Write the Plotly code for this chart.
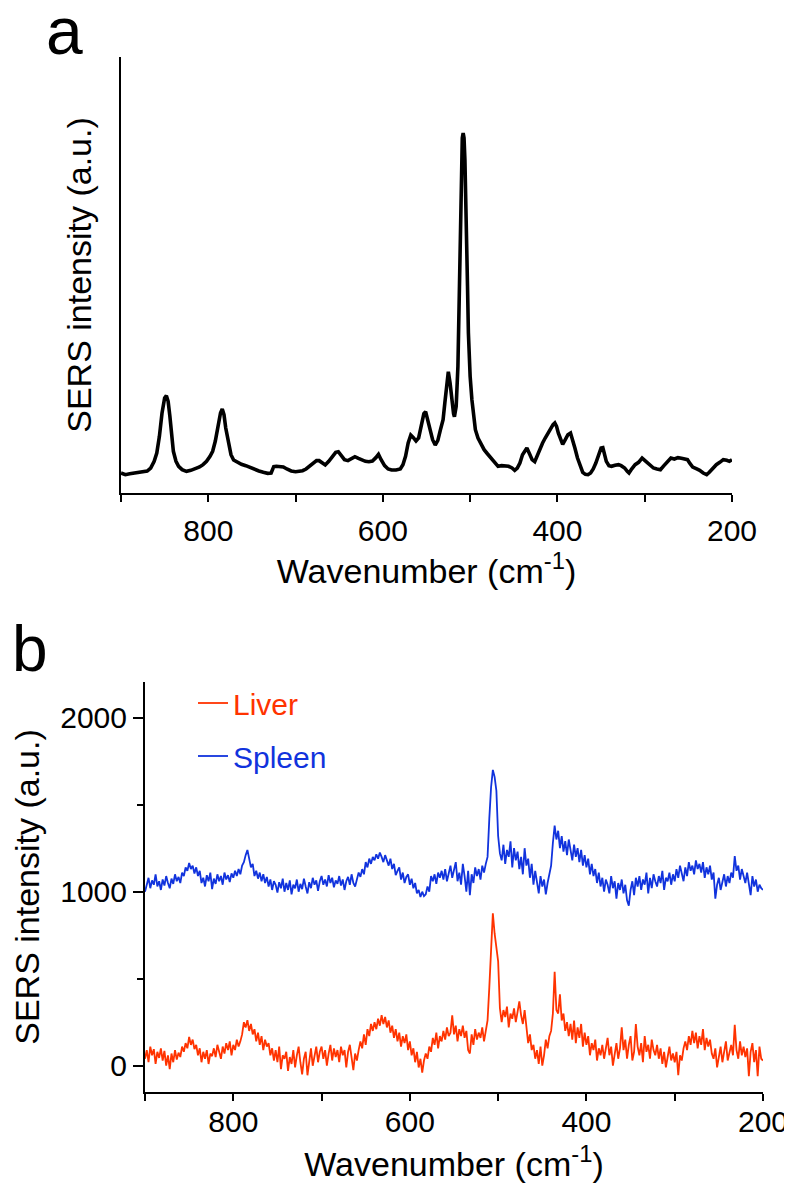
import plotly.graph_objects as go

# ---------------- Panel a: SERS spectrum (arbitrary units) ----------------
a_wavenumber = [900, 895, 890, 885, 880, 875, 870, 866, 862, 859, 856, 853, 850, 848, 846, 844, 842, 840, 837, 834,
                830, 825, 820, 815, 810, 806, 802, 798, 795, 792, 789, 786, 784, 782, 780, 777, 774, 771, 767, 762,
                757, 752, 747, 742, 737, 732, 728, 725, 722, 718, 714, 710, 705, 700, 696, 692, 688, 684, 680, 676,
                673, 670, 666, 662, 658, 654, 651, 648, 644, 640, 636, 632, 628, 624, 620, 616, 612, 608, 605, 602,
                598, 594, 590, 585, 580, 577, 574, 571, 568, 565, 562, 559, 556, 553, 551, 549, 546, 543, 540, 537,
                534, 531, 529, 527, 525, 523, 521, 519, 518, 516, 514, 513, 512, 511, 510, 509, 508, 507, 506, 505,
                504, 503, 502, 501, 500, 498, 496, 494, 491, 488, 484, 480, 476, 472, 468, 464, 460, 456, 452, 449,
                446, 443, 440, 437, 435, 432, 429, 426, 423, 420, 417, 414, 411, 408, 405, 403, 401, 399, 396, 394,
                391, 388, 385, 383, 380, 377, 374, 371, 368, 365, 362, 359, 356, 353, 350, 348, 346, 344, 341, 338,
                334, 330, 327, 323, 320, 318, 315, 311, 307, 303, 300, 297, 294, 290, 286, 282, 278, 274, 270, 266,
                262, 258, 254, 251, 248, 245, 241, 237, 233, 229, 226, 222, 218, 214, 210, 206, 203, 200]
a_intensity = [60, 55, 58, 60, 62, 63, 66, 75, 95, 120, 170, 240, 285, 292, 275, 230, 170, 125, 95, 80,
               70, 65, 68, 73, 78, 85, 95, 110, 125, 155, 200, 240, 252, 235, 195, 150, 115, 99, 92, 86,
               82, 76, 70, 66, 62, 59, 60, 79, 80, 79, 78, 72, 66, 64, 66, 67, 72, 80, 90, 97,
               97, 90, 84, 95, 108, 122, 124, 112, 100, 97, 103, 109, 104, 98, 95, 94, 96, 106, 116, 100,
               82, 72, 69, 69, 72, 85, 110, 150, 174, 166, 156, 165, 205, 238, 244, 225, 190, 160, 144, 158,
               190, 220, 270, 330, 364, 330, 270, 238, 229, 260, 380, 520, 740, 900, 1010, 1065, 1080, 1065, 1000, 900,
               770, 620, 480, 400, 350, 280, 225, 190, 165, 148, 130, 117, 105, 90, 80, 82, 82, 80, 75, 68,
               75, 90, 115, 130, 135, 118, 100, 94, 115, 130, 150, 165, 180, 195, 205, 210, 200, 180, 158, 146,
               160, 175, 180, 165, 135, 105, 80, 62, 56, 55, 60, 72, 90, 115, 135, 136, 115, 95, 82, 80,
               83, 85, 82, 75, 65, 60, 72, 85, 92, 105, 98, 90, 82, 75, 72, 70, 82, 95, 105, 102,
               106, 104, 102, 100, 88, 78, 73, 68, 60, 55, 62, 75, 85, 92, 100, 98, 95, 100]

# ---------------- Panel b: Liver and Spleen spectra (every 2 cm-1, 900 -> 200) ----------------
b_wavenumber = list(range(900, 199, -2))
spleen = [1000, 1050, 1080, 1020, 1065, 1040, 1100, 1030, 1060, 1010,
          1070, 1035, 1090, 1050, 1020, 1075, 1045, 1100, 1060, 1085,
          1050, 1110, 1090, 1140, 1120, 1165, 1130, 1150, 1105, 1140,
          1090, 1120, 1050, 1080, 1030, 1095, 1060, 1110, 1015, 1075,
          1045, 1100, 1060, 1090, 1040, 1110, 1070, 1095, 1055, 1105,
          1080, 1120, 1090, 1130, 1100, 1150, 1170, 1210, 1240, 1190,
          1140, 1160, 1090, 1120, 1075, 1110, 1060, 1100, 1050, 1085,
          1030, 1070, 1010, 1060, 1040, 995, 1055, 1020, 1075, 1000,
          1050, 1010, 1065, 985, 1040, 1020, 1070, 1000, 1045, 1015,
          1075, 1030, 990, 1055, 1020, 1080, 1040, 1065, 1005, 1060,
          1090, 1040, 1070, 1030, 1095, 1050, 1080, 1025, 1065, 1045,
          1090, 1035, 1070, 1010, 1060, 1085, 1040, 1100, 1050, 1030,
          1070, 1110, 1085, 1130, 1100, 1170, 1140, 1190, 1160, 1200,
          1180, 1215, 1190, 1225, 1200, 1170, 1210, 1185, 1150, 1190,
          1130, 1160, 1095, 1120, 1140, 1070, 1110, 1050, 1085, 1100,
          1040, 1075, 1020, 1050, 990, 1010, 970, 1000, 975, 985,
          1030, 1000, 1090, 1060, 1100, 1045, 1110, 1080, 1120, 1070,
          1130, 1060, 1100, 1150, 1080, 1120, 1170, 1060, 1110, 1040,
          1160, 1090, 1000, 1120, 980, 1100, 1050, 1140, 1090, 1130,
          1070, 1150, 1110, 1160, 1200, 1420, 1600, 1700, 1660, 1580,
          1320, 1220, 1180, 1270, 1160, 1240, 1200, 1290, 1140, 1250,
          1180, 1230, 1130, 1200, 1100, 1250, 1150, 1190, 1080, 1160,
          1040, 1120, 1060, 990, 1090, 1030, 1070, 985, 1050, 1100,
          1150, 1280, 1380, 1300, 1350, 1250, 1320, 1230, 1290, 1210,
          1300, 1240, 1180, 1270, 1200, 1250, 1170, 1240, 1150, 1210,
          1140, 1190, 1100, 1160, 1090, 1130, 1050, 1110, 1030, 1080,
          1000, 1070, 1040, 990, 1090, 1020, 1060, 960, 1050, 1010,
          1070, 990, 1040, 950, 920, 1010, 1060, 980, 1080, 1030,
          1090, 1010, 1070, 1040, 1110, 990, 1080, 1020, 1100, 1060,
          1030, 1090, 1050, 1120, 1010, 1080, 1060, 1110, 1040, 1100,
          1060, 1130, 1080, 1150, 1100, 1060, 1140, 1090, 1170, 1120,
          1150, 1100, 1180, 1130, 1160, 1110, 1170, 1080, 1140, 1100,
          1150, 1070, 1110, 960, 1040, 1080, 1010, 1060, 1100, 1030,
          1090, 1050, 1110, 1080, 1205, 1120, 1150, 1070, 1130, 1090,
          1050, 1110, 1040, 980, 1090, 1030, 1070, 1000, 1040, 1020,
          1010]
liver = [40, 90, 20, 110, 60, 95, 10, 80, 45, 100,
         30, 85, 0, 60, -20, 70, 20, 90, 35, 75,
         50, 110, 80, 130, 100, 165, 120, 150, 95, 120,
         60, 100, 20, 80, 40, 90, 10, 70, 55, 100,
         50, 120, 80, 40, 110, 70, 130, 90, 140, 60,
         120, 90, 150, 110, 140, 180, 250, 220, 262, 200,
         240, 180, 210, 140, 190, 120, 170, 90, 150, 110,
         130, 60, 100, 30, 90, 20, 110, -20, 60, 40,
         80, -30, 50, 10, 90, -10, 60, 110, 20, -50,
         40, 80, -55, 30, 100, 0, 70, 110, 20, 80,
         110, 40, 90, 0, 70, 120, 30, 100, 50, 90,
         20, 110, 60, 90, -10, 80, 120, 40, -25, 70,
         30, 90, 140, 100, 180, 120, 210, 170, 240, 200,
         250, 210, 270, 230, 290, 240, 280, 220, 260, 190,
         230, 160, 210, 140, 190, 110, 170, 130, 180, 90,
         140, 60, 100, 20, 80, -10, 40, -40, 30, 70,
         40, 110, 80, 160, 120, 190, 100, 170, 140, 200,
         150, 220, 170, 190, 290, 180, 230, 140, 210, 170,
         230, 160, 200, 90, 70, 180, 120, 210, 150, 190,
         160, 220, 140, 200, 260, 450, 700, 876, 760, 680,
         600, 330, 250, 320, 280, 340, 220, 300, 270, 330,
         250, 310, 370, 290, 240, 320, 200, 130, 180, 90,
         120, 40, 90, 10, 110, 0, 60, 150, 100, 170,
         200, 300, 540, 320, 300, 410, 260, 300, 200, 250,
         170, 240, 150, 260, 130, 220, 160, 240, 110, 190,
         120, 170, 60, 130, 90, 150, 30, 100, 60, 120,
         40, 90, 160, 60, 110, 0, 80, 130, 40, 100,
         220, 90, 150, 40, 120, 170, 30, 80, 240, 110,
         60, 130, 20, 170, 80, 120, 40, 150, 90, 60,
         120, 40, 100, 10, 80, -10, 50, 110, 30, 70,
         20, 80, -55, 60, 30, 100, 140, 90, 170, 120,
         200, 130, 190, 100, 170, 120, 210, 90, 160, 110,
         150, 70, 40, 100, -10, 60, 110, 20, 90, 140,
         30, 80, 120, 60, 235, 90, 40, 140, 60, 110,
         50, 100, -60, 80, 130, 20, 90, -60, 110, 40,
         30]

x_ticks_major = [800, 600, 400, 200]
y_ticks_b = [0, 1000, 2000]

FONT = "Liberation Sans, Arial, Helvetica, sans-serif"
RED = "#FF3300"
BLUE = "#1133DD"

fig = go.Figure()
fig.add_trace(go.Scatter(x=a_wavenumber, y=a_intensity, mode="lines",
                         line=dict(color="black", width=3.6), showlegend=False,
                         xaxis="x", yaxis="y"))
fig.add_trace(go.Scatter(x=b_wavenumber, y=liver, mode="lines", name="Liver",
                         line=dict(color=RED, width=1.8), xaxis="x2", yaxis="y2",
                         legend="legend"))
fig.add_trace(go.Scatter(x=b_wavenumber, y=spleen, mode="lines", name="Spleen",
                         line=dict(color=BLUE, width=1.8), xaxis="x2", yaxis="y2",
                         legend="legend2"))

W, H = 792, 1184
OFF = 8  # page body margin of the html page
xtitle = "Wavenumber (cm<sup>-1</sup>)"
ytitle = "SERS intensity (a.u.)"


def px_x(p):
    return (p - OFF) / W


def px_y(p):
    return 1 - (p - OFF) / H


common_x = dict(range=[900, 200], showline=True, linecolor="black", linewidth=2,
                ticks="outside", ticklen=7, tickwidth=2, tickcolor="black",
                tickvals=x_ticks_major, showgrid=False, zeroline=False,
                minor=dict(dtick=100, tick0=200, ticks="outside", ticklen=7, tickwidth=2,
                           tickcolor="black", showgrid=False),
                tickfont=dict(size=30, color="black", family=FONT),
                automargin=False)

fig.update_layout(
    width=W, height=H,
    paper_bgcolor="white", plot_bgcolor="white",
    margin=dict(l=0, r=0, t=0, b=0),
    font=dict(family=FONT, color="black"),
    xaxis=dict(domain=[px_x(121), px_x(732)], anchor="y", ticklabelstandoff=3,
               title=dict(text=xtitle, font=dict(size=34), standoff=5), **common_x),
    yaxis=dict(domain=[px_y(493), px_y(57)], anchor="x", range=[0, 1308],
               showline=True, linecolor="black", linewidth=2, ticks="",
               showticklabels=False, showgrid=False, zeroline=False,
               title=dict(text=ytitle, font=dict(size=34), standoff=17),
               automargin=False),
    xaxis2=dict(domain=[px_x(145), px_x(763)], anchor="y2", ticklabelstandoff=-5,
                title=dict(text=xtitle, font=dict(size=34), standoff=15), **common_x),
    yaxis2=dict(domain=[px_y(1092), px_y(682)], anchor="x2", range=[-151, 2205],
                showline=True, linecolor="black", linewidth=2,
                ticks="outside", ticklen=10, tickwidth=2, tickcolor="black",
                tickvals=y_ticks_b, showgrid=False, zeroline=False,
                minor=dict(dtick=500, tick0=0, ticks="outside", ticklen=6, tickwidth=2,
                           tickcolor="black", showgrid=False),
                tickfont=dict(size=30, color="black", family=FONT),
                title=dict(text=ytitle, font=dict(size=34), standoff=12),
                automargin=False),
    legend=dict(x=px_x(193), xanchor="left", y=px_y(703), yanchor="middle",
                font=dict(size=30, color=RED, family=FONT),
                bgcolor="rgba(0,0,0,0)", borderwidth=0),
    legend2=dict(x=px_x(193), xanchor="left", y=px_y(756), yanchor="middle",
                 font=dict(size=30, color=BLUE, family=FONT),
                 bgcolor="rgba(0,0,0,0)", borderwidth=0),
    annotations=[
        dict(text="a", x=px_x(64), y=px_y(31), xref="paper", yref="paper",
             xanchor="center", yanchor="middle", showarrow=False,
             font=dict(size=66, color="black", family=FONT)),
        dict(text="b", x=px_x(30), y=px_y(649), xref="paper", yref="paper",
             xanchor="center", yanchor="middle", showarrow=False,
             font=dict(size=64, color="black", family=FONT)),
    ],
)

fig.write_html("out.html")
